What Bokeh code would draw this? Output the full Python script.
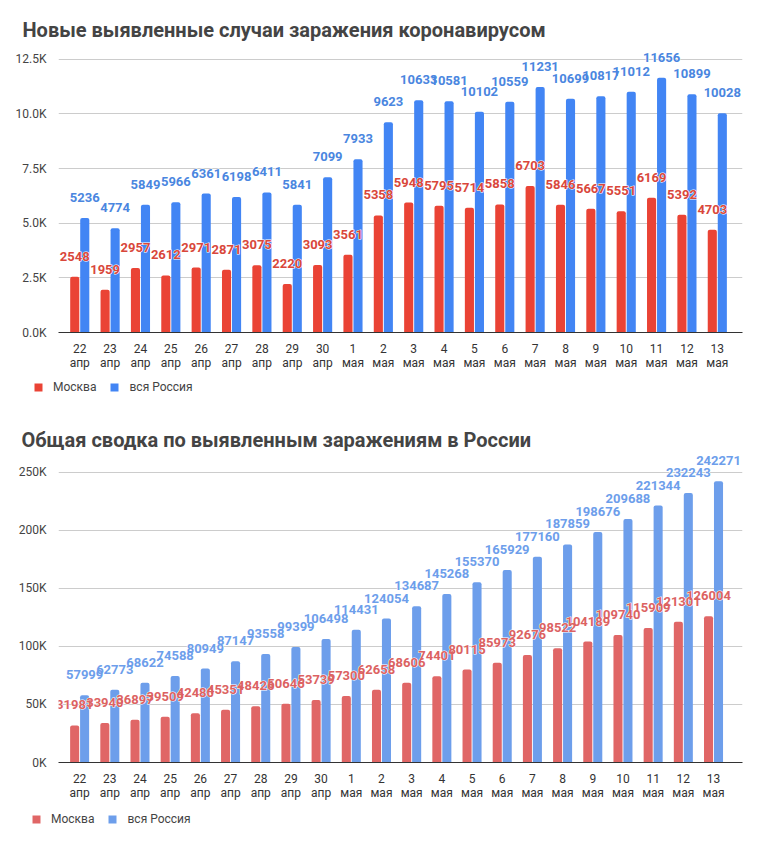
from bokeh.plotting import figure
from bokeh.layouts import column, row
from bokeh.models import ColumnDataSource, Legend, LegendItem, FixedTicker, Range1d
from bokeh.transform import dodge
from bokeh.core.properties import value
from bokeh.embed import file_html
from bokeh.resources import INLINE

days = ["22", "23", "24", "25", "26", "27", "28", "29", "30",
        "1", "2", "3", "4", "5", "6", "7", "8", "9", "10", "11", "12", "13"]
months = ["апр"] * 9 + ["мая"] * 13

moscow_new = [2548, 1959, 2957, 2612, 2971, 2871, 3075, 2220, 3093, 3561, 5358,
              5948, 5795, 5714, 5858, 6703, 5846, 5667, 5551, 6169, 5392, 4703]
russia_new = [5236, 4774, 5849, 5966, 6361, 6198, 6411, 5841, 7099, 7933, 9623,
              10633, 10581, 10102, 10559, 11231, 10699, 10817, 11012, 11656, 10899, 10028]

moscow_total = [31981, 33940, 36897, 39509, 42480, 45351, 48426, 50646, 53739, 57300, 62658,
                68606, 74401, 80115, 85973, 92676, 98522, 104189, 109740, 115909, 121301, 126004]
russia_total = [57999, 62773, 68622, 74588, 80949, 87147, 93558, 99399, 106498, 114431, 124054,
                134687, 145268, 155370, 165929, 177160, 187859, 198676, 209688, 221344, 232243, 242271]

top_ticks = [0, 2500, 5000, 7500, 10000, 12500]
top_tick_labels = ["0.0K", "2.5K", "5.0K", "7.5K", "10.0K", "12.5K"]
bot_ticks = [0, 50000, 100000, 150000, 200000, 250000]
bot_tick_labels = ["0K", "50K", "100K", "150K", "200K", "250K"]

series_names = ["Москва", "вся Россия"]
title_top = "Новые выявленные случаи заражения коронавирусом"
title_bot = "Общая сводка по выявленным заражениям в России"

FONT = "Roboto"
W = 754
OFF = 0.165
BW = 0.3


def make_chart(title, mvals, rvals, ticks, tick_labels, yend, xend, colors, label_colors,
               height, border_left, border_right, border_top, border_bottom,
               title_offset, title_standoff):
    xs = list(range(len(days)))
    src = ColumnDataSource(dict(
        x=xs, m=mvals, r=rvals,
        ml=[str(v) for v in mvals], rl=[str(v) for v in rvals],
    ))
    p = figure(width=W, height=height, output_backend="svg", toolbar_location=None,
               x_range=Range1d(-0.7, xend), y_range=Range1d(0, yend),
               min_border_left=border_left, min_border_right=border_right,
               min_border_top=border_top, min_border_bottom=border_bottom)
    p.outline_line_color = None
    p.background_fill_color = "white"
    p.border_fill_color = "white"

    p.title.text = title
    p.title.text_font = FONT
    p.title.text_font_size = "20px"
    p.title.text_font_style = "bold"
    p.title.text_color = "#444444"
    p.title.align = "left"
    p.title.offset = title_offset
    p.title.standoff = title_standoff

    p.vbar(x=dodge("x", -OFF, range=p.x_range), top="m", width=BW, source=src,
           fill_color=colors[0], line_color=None, border_radius=(2, 2, 0, 0))
    p.vbar(x=dodge("x", OFF, range=p.x_range), top="r", width=BW, source=src,
           fill_color=colors[1], line_color=None, border_radius=(2, 2, 0, 0))

    for col, lab, dx, c in (("r", "rl", OFF, label_colors[1]), ("m", "ml", -OFF, label_colors[0])):
        common = dict(x=dodge("x", dx, range=p.x_range), y=col, text=lab, source=src,
                      y_offset=-16, text_align="center", text_baseline="bottom",
                      text_font_size="13px", text_font_style="bold", text_font=value(FONT))
        # white halo underneath
        p.text(text_color="white", text_outline_color="white", **common)
        p.text(text_color=c, **common)

    xa = p.xaxis[0]
    xa.ticker = FixedTicker(ticks=xs)
    xa.major_label_overrides = {i: f"{d}\n{m}" for i, (d, m) in enumerate(zip(days, months))}
    xa.major_tick_line_color = None
    xa.minor_tick_line_color = None
    xa.axis_line_color = "#333333"
    xa.major_label_text_font = FONT
    xa.major_label_text_font_size = "12px"
    xa.major_label_text_color = "#333333"
    xa.major_label_text_line_height = 1.0
    xa.major_label_standoff = 3

    ya = p.yaxis[0]
    ya.ticker = FixedTicker(ticks=ticks)
    ya.major_label_overrides = {t: l for t, l in zip(ticks, tick_labels)}
    ya.axis_line_color = None
    ya.major_tick_line_color = None
    ya.minor_tick_line_color = None
    ya.major_label_text_font = FONT
    ya.major_label_text_font_size = "12px"
    ya.major_label_text_color = "#444444"
    ya.major_label_standoff = 6

    p.xgrid.grid_line_color = None
    p.ygrid.grid_line_color = "#cccccc"
    p.ygrid.ticker = FixedTicker(ticks=ticks)
    return p, src


def make_legend(src, colors, height, loc):
    lp = figure(width=W, height=height, output_backend="svg", toolbar_location=None,
                x_axis_type=None, y_axis_type=None,
                x_range=Range1d(-100, -99), y_range=Range1d(-100, -99),
                min_border=0)
    lp.outline_line_color = None
    lp.grid.visible = False
    r1 = lp.vbar(x="x", top="m", width=BW, source=src, fill_color=colors[0], line_color=None)
    r2 = lp.vbar(x="x", top="r", width=BW, source=src, fill_color=colors[1], line_color=None)
    legend = Legend(items=[LegendItem(label=series_names[0], renderers=[r1]),
                           LegendItem(label=series_names[1], renderers=[r2])],
                    location=loc, orientation="horizontal",
                    padding=0, margin=0, spacing=13, label_standoff=10,
                    glyph_width=10, glyph_height=10,
                    label_text_font=FONT, label_text_font_size="12px",
                    label_text_color="#444444",
                    border_line_color=None, background_fill_alpha=0)
    lp.add_layout(legend, "center")
    return lp


top_colors = ["#ea4335", "#4285f4"]
bot_colors = ["#e06666", "#6d9eeb"]

p1, s1 = make_chart(title_top, moscow_new, russia_new, top_ticks, top_tick_labels, 13134, 21.83,
                    top_colors, ["#d9473b", "#4a86e0"],
                    372, 58, 12, 45, 37, -36, 8)
l1 = make_legend(s1, top_colors, 30, (33, 8))
p2, s2 = make_chart(title_bot, moscow_total, russia_total, bot_ticks, bot_tick_labels, 267065, 21.96,
                    bot_colors, ["#dc6262", "#6d9eeb"],
                    400, 53, 12, 50, 37, -37, 2)
l2 = make_legend(s2, bot_colors, 30, (31, 6))

layout = column(p1, row(l1), p2, row(l2), spacing=0)
open("out.html", "w").write(file_html(layout, INLINE))
